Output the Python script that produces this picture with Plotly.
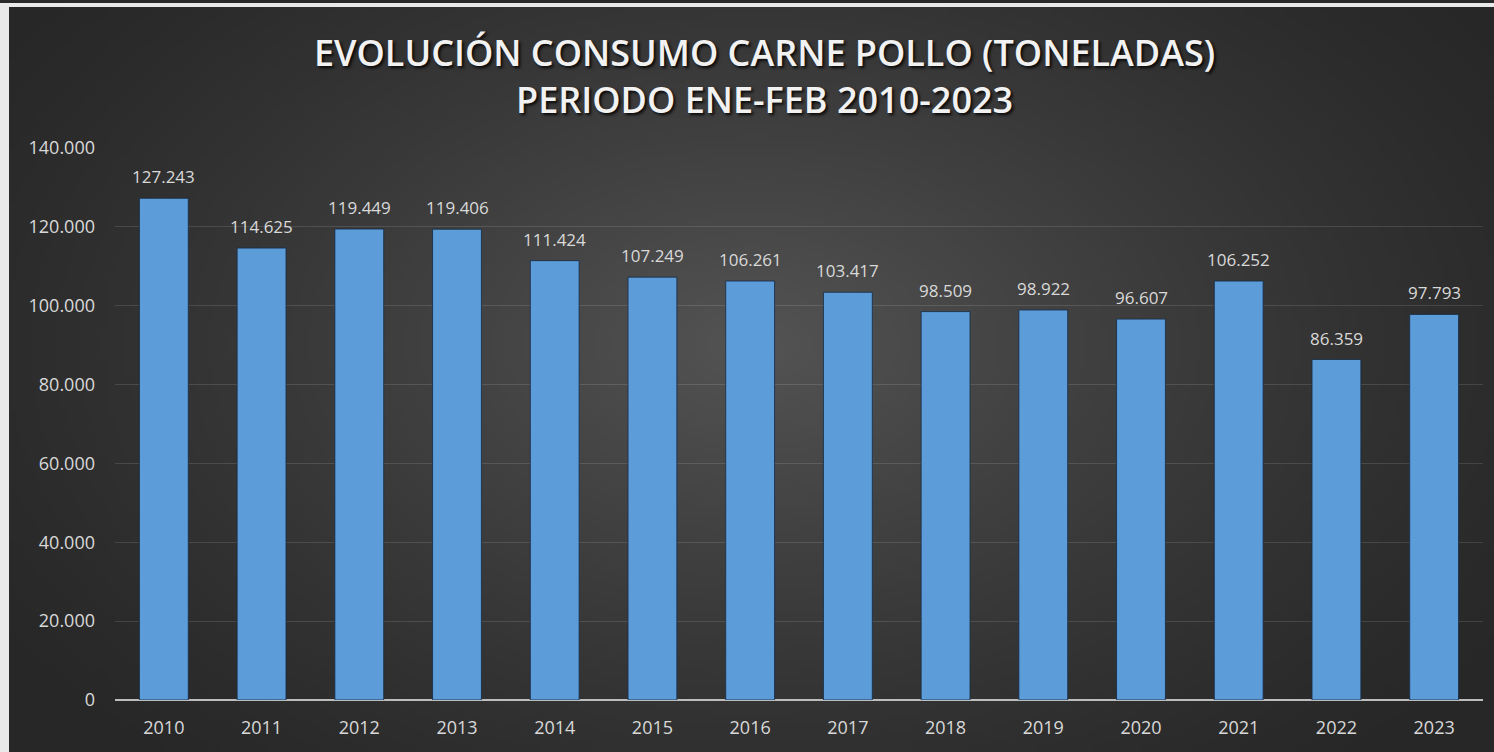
import base64, struct, zlib
import numpy as np
import plotly.graph_objects as go

# ---------------- data ----------------
years = ["2010", "2011", "2012", "2013", "2014", "2015", "2016",
         "2017", "2018", "2019", "2020", "2021", "2022", "2023"]
tonnes = [127243, 114625, 119449, 119406, 111424, 107249, 106261,
          103417, 98509, 98922, 96607, 106252, 86359, 97793]
y_ticks = [0, 20000, 40000, 60000, 80000, 100000, 120000, 140000]
title_line1 = "EVOLUCIÓN CONSUMO CARNE POLLO (TONELADAS)"
title_line2 = "PERIODO ENE-FEB 2010-2023"

# ---------------- layout geometry ----------------
W, H = 1494, 752
ML, MR, MT, MB = 115, 11, 148, 52
PW, PH = W - ML - MR, H - MT - MB

# radial gradient background as a PNG data URI
def gradient_png(w, h):
    yy, xx = np.mgrid[0:h, 0:w].astype(float)
    cx, cy = w * 0.5, h * 0.45
    r = np.sqrt(((xx - cx) / (w * 0.62)) ** 2 + ((yy - cy) / (h * 0.78)) ** 2)
    r = np.clip(r, 0, 1)
    v = 0x27 + (0x54 - 0x27) * (1 - r) ** 1.3
    img = np.clip(v, 0, 255).astype(np.uint8)
    rgb = np.stack([img, img, img], axis=-1)
    raw = b"".join(b"\x00" + rgb[i].tobytes() for i in range(h))
    def chunk(t, d):
        c = struct.pack(">I", len(d)) + t + d
        return c + struct.pack(">I", zlib.crc32(t + d) & 0xffffffff)
    png = b"\x89PNG\r\n\x1a\n" + chunk(b"IHDR", struct.pack(">IIBBBBB", w, h, 8, 2, 0, 0, 0)) \
        + chunk(b"IDAT", zlib.compress(raw, 9)) + chunk(b"IEND", b"")
    return "data:image/png;base64," + base64.b64encode(png).decode()

bg_left, bg_top = 9, 7
bg_w, bg_h = W - bg_left, H - bg_top
bg_src = gradient_png(300, 150)

def px_x(x):
    return (x - ML) / PW

def px_y(y):
    return (H - MB - y) / PH

label_col = "#d9d9d9"
font_fam = "Open Sans"

fig = go.Figure()
fig.add_trace(go.Bar(
    x=years, y=tonnes,
    marker=dict(color="#5c9cd9", line=dict(color="rgba(25,45,70,0.85)", width=1)),
    width=0.5,
    hoverinfo="x+y",
))

annotations = []
for i, v in enumerate(tonnes):
    annotations.append(dict(
        x=i, y=v, xref="x", yref="y", text=f"{v:,}".replace(",", "."),
        showarrow=False, yanchor="bottom", yshift=8,
        font=dict(family=font_fam, size=17, color=label_col),
    ))

title_font = dict(family=font_fam, size=36, color="#f2f2f2", weight=600,
                  shadow="2px 2px 3px rgba(0,0,0,0.85)")
annotations.append(dict(
    x=px_x(764), y=px_y(76), xref="paper", yref="paper",
    text=title_line1 + "<br>" + title_line2, align="center",
    showarrow=False, xanchor="center", yanchor="middle", font=title_font,
))

fig.update_layout(
    width=W, height=H,
    margin=dict(l=ML, r=MR, t=MT, b=MB, pad=0),
    paper_bgcolor="#e9e9e9",
    plot_bgcolor="rgba(0,0,0,0)",
    separators=",.",
    showlegend=False,
    bargap=0.5,
    font=dict(family=font_fam, color=label_col, size=18),
    annotations=annotations,
    images=[dict(
        source=bg_src, xref="paper", yref="paper",
        x=px_x(bg_left), y=px_y(bg_top),
        sizex=bg_w / PW, sizey=bg_h / PH,
        xanchor="left", yanchor="top", sizing="stretch", layer="below",
    )],
    shapes=[dict(
        type="rect", xref="paper", yref="paper",
        x0=px_x(0), x1=px_x(W), y0=px_y(0), y1=px_y(3),
        fillcolor="#2a2a2a", line=dict(width=0), layer="below",
    )],
    xaxis=dict(
        type="category", range=[-0.5, len(years) - 0.5],
        showgrid=False, zeroline=False,
        showline=False, ticks="", ticklabelstandoff=15,
        tickfont=dict(family=font_fam, size=18, color=label_col),
        fixedrange=True,
    ),
    yaxis=dict(
        range=[0, 140000], tickvals=y_ticks,
        ticktext=[f"{t:,}".replace(",", ".") for t in y_ticks],
        showgrid=True, gridcolor="rgba(255,255,255,0.12)", gridwidth=1,
        zeroline=True, zerolinecolor="#bdbdbd", zerolinewidth=2,
        showline=False, ticks="", ticklabelstandoff=19,
        tickfont=dict(family=font_fam, size=18, color=label_col),
        fixedrange=True,
    ),
)

fig.write_html("out.html", config={"displayModeBar": False},
               post_script="document.body.style.margin='0';document.body.style.overflow='hidden';")
